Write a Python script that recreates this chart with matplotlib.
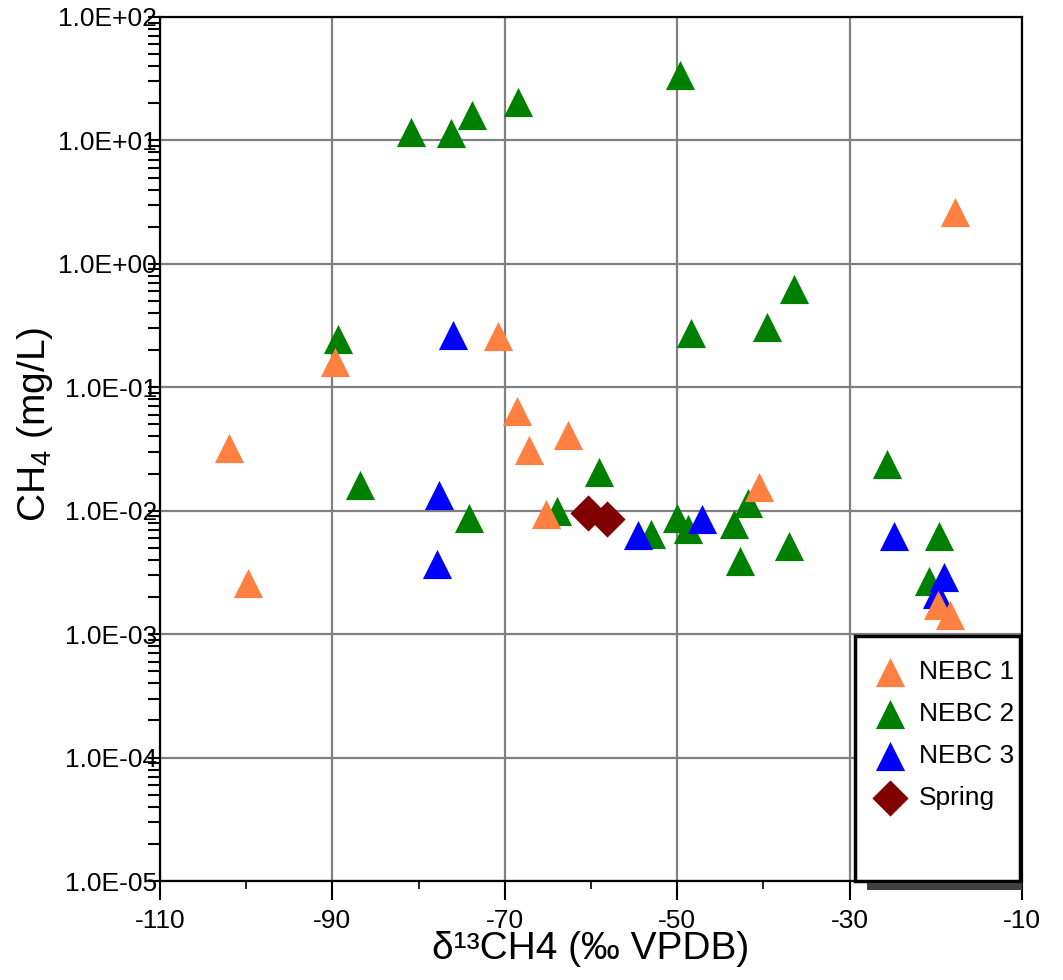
import matplotlib
matplotlib.use('Agg')
import matplotlib.pyplot as plt
from matplotlib.patches import Rectangle
from matplotlib.ticker import FixedLocator, LogLocator, FuncFormatter, NullFormatter

plt.rcParams['font.family'] = ['Liberation Sans', 'DejaVu Sans']
plt.rcParams['mathtext.fontset'] = 'custom'
plt.rcParams['mathtext.rm'] = 'Liberation Sans'
plt.rcParams['mathtext.default'] = 'regular'

# delta13C of CH4 (permil) and CH4 concentration (mg/L)
nebc1_d13c = [-102.0, -99.8, -89.7, -70.8, -68.6, -67.2, -62.7, -65.2, -40.5, -17.8, -19.7, -18.4]
nebc1_ch4 = [0.0322, 0.00262, 0.160, 0.261, 0.0648, 0.0309, 0.0408, 0.0094, 0.0156, 2.64, 0.00171, 0.00143]

nebc2_d13c = [-89.4, -86.8, -80.9, -76.2, -73.8, -68.5, -74.1, -63.9, -59.1, -53.1, -50.0, -48.7,
              -49.7, -48.4, -43.4, -41.8, -42.7, -39.6, -37.05, -36.5, -25.7, -20.8, -19.6]
nebc2_ch4 = [0.245, 0.0161, 11.7, 11.4, 16.0, 20.3, 0.00865, 0.00987, 0.0207, 0.00653, 0.00865, 0.00711,
             33.9, 0.276, 0.00776, 0.0116, 0.0039, 0.306, 0.00516, 0.63, 0.0239, 0.0027, 0.00622]

nebc3_d13c = [-76.0, -77.65, -77.9, -54.5, -47.1, -24.8, -19.1, -19.9]
nebc3_ch4 = [0.264, 0.0133, 0.00371, 0.00634, 0.00859, 0.00622, 0.0029, 0.00213]

spring_d13c = [-60.4, -58.1]
spring_ch4 = [0.00966, 0.0085]

x_major = [-110, -90, -70, -50, -30, -10]
x_minor = [-100, -80, -60, -40, -20]

fig = plt.figure(figsize=(10.63, 9.8), dpi=100)
ax = fig.add_axes([0.1505, 0.101, 0.811, 0.8817])

ms = 441
h1 = ax.scatter(nebc1_d13c, nebc1_ch4, s=ms, marker='^', color='#FF8040', linewidths=0, zorder=5, label='NEBC 1')
h2 = ax.scatter(nebc2_d13c, nebc2_ch4, s=ms, marker='^', color='#008000', linewidths=0, zorder=3, label='NEBC 2')
h3 = ax.scatter(nebc3_d13c, nebc3_ch4, s=ms, marker='^', color='#0000FF', linewidths=0, zorder=4, label='NEBC 3')
h4 = ax.scatter(spring_d13c, spring_ch4, s=340, marker='D', color='#800000', linewidths=0, zorder=6, label='Spring')

ax.set_yscale('log')
ax.set_xlim(-110, -10)
ax.set_ylim(1e-5, 1e2)

ax.xaxis.set_major_locator(FixedLocator(x_major))
ax.xaxis.set_minor_locator(FixedLocator(x_minor))
ax.yaxis.set_major_locator(LogLocator(base=10, numticks=20))
ax.yaxis.set_minor_locator(LogLocator(base=10, subs=range(2, 10), numticks=20))
ax.yaxis.set_major_formatter(FuncFormatter(lambda v, p: f"{v:.1E}"))
ax.yaxis.set_minor_formatter(NullFormatter())
ax.xaxis.set_major_formatter(FuncFormatter(lambda v, p: f"{v:.0f}"))

ax.grid(True, which='major', color='#808080', linewidth=1.6, zorder=1)
ax.set_axisbelow(True)

ax.tick_params(axis='x', which='major', direction='out', length=14, width=1.5, pad=6, labelsize=19)
ax.tick_params(axis='x', which='minor', direction='out', length=6, width=1.2)
ax.tick_params(axis='y', which='major', direction='out', length=9, width=1.5, pad=-7, labelsize=19)
ax.tick_params(axis='y', which='minor', direction='out', length=9, width=1.5)

for sp in ax.spines.values():
    sp.set_color('black')
    sp.set_linewidth(1.6)

ax.set_xlabel('δ¹³CH4 (‰ VPDB)', fontsize=28, labelpad=-1)
ax.set_ylabel('CH$_4$ (mg/L)', fontsize=28)
ax.yaxis.set_label_coords(-0.122, 0.528)

# legend frame drawn by hand (tall box with shadow)
shadow = Rectangle((867 / 1063, (980 - 890) / 980), (1022 - 867) / 1063, 7 / 980,
                   transform=fig.transFigure, facecolor='#404040', edgecolor='none', clip_on=False, zorder=7)
fig.add_artist(shadow)
frame = Rectangle((0.806, 0.0), 0.192, 0.2836, transform=ax.transAxes, facecolor='white',
                  edgecolor='black', linewidth=2.5, clip_on=False, zorder=8)
ax.add_patch(frame)

leg = ax.legend(handles=[h1, h2, h3, h4], loc='upper left', bbox_to_anchor=(0.813, 0.2709),
                frameon=False, fontsize=19, scatterpoints=1, handlelength=1.2, handletextpad=0.5,
                labelspacing=0.68, borderpad=0.5, borderaxespad=0.0)
leg.set_zorder(9)

fig.savefig('out.png', dpi=100)
